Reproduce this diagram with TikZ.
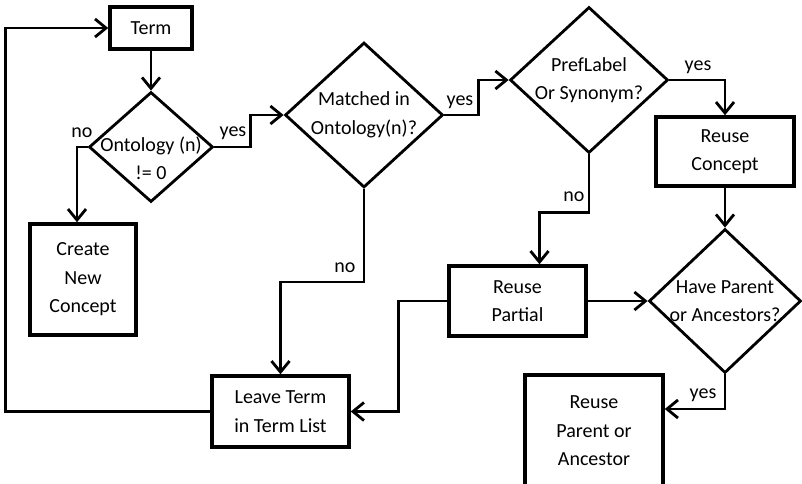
\documentclass[tikz,border=0pt]{standalone}
\usepackage{fontspec}
\setmainfont{Carlito}
\usetikzlibrary{arrows.meta}
\usetikzlibrary{shapes.geometric}
\usetikzlibrary{calc}

\begin{document}
\begin{tikzpicture}[x=1pt,y=-1pt,
	every node/.style={font=\fontsize{20}{28.5}\selectfont, align=center},
	stepbox/.style={draw, rectangle, line width=3.5pt, inner sep=0pt},
	decision/.style={draw, diamond, line width=2.8pt, inner sep=0pt},
	flow/.style={line width=2.8pt, -{Straight Barb[length=11pt,width=18pt]}},
	tag/.style={inner sep=0pt}]
	\useasboundingbox (0,0) rectangle (802,483);
	\clip (0,0) rectangle (802,483);
	
	% boxes
	\node[stepbox, minimum width=82pt, minimum height=42pt] (term) at (151,28) {Term};
	\node[stepbox, minimum width=106pt, minimum height=111pt] (create) at (83,279.5) {Create\\New\\Concept};
	\node[stepbox, minimum width=138pt, minimum height=69pt] (reuse) at (725,151.5) {Reuse\\Concept};
	\node[stepbox, minimum width=137pt, minimum height=70pt] (partial) at (517.5,301) {Reuse\\Partial};
	\node[stepbox, minimum width=137pt, minimum height=71pt] (leave) at (280.5,411.5) {Leave Term\\in Term List};
	\node[stepbox, minimum width=138pt, minimum height=112pt] (parent) at (594,431) {Reuse\\Parent or\\Ancestor};
	
	% decisions
	\node[decision, minimum width=124pt, minimum height=110pt,
		label={[yshift=-11pt]center:{Ontology (n)\\!= 0}}] (ont) at (151,147) {};
	\node[decision, minimum width=158pt, minimum height=145pt,
		label={center:{Matched in\\Ontology(n)?}}] (match) at (364,115) {};
	\node[decision, minimum width=158pt, minimum height=146pt,
		label={center:{PrefLabel\\Or Synonym?}}] (pref) at (589,80) {};
	\node[decision, minimum width=152pt, minimum height=144pt,
		label={center:{Have Parent\\or Ancestors?}}] (have) at (725,301) {};
	
	% connectors
	\draw[flow] (term.south) -- (ont.north);
	\draw[flow] (ont.east) -- ++(36,0) |- (match.west);
	\draw[flow] (ont.west) -| ([xshift=-6pt]create.north);
	\draw[flow] (match.east) -- ++(34,0) |- (pref.west);
	\draw[flow] (match.south) -- ++(0,93) -| (leave.north);
	\draw[flow] (pref.east) -| (reuse.north);
	\draw[flow] (pref.south) -- ++(0,58) -| ([xshift=22pt]partial.north);
	\draw[flow] (reuse.south) -- (have.north);
	\draw[flow] (partial.east) -- (have.west);
	\draw[flow] (partial.west) -- ++(-49,0) |- (leave.east);
	\draw[flow] (have.south) |- ([yshift=22pt]parent.east);
	\draw[flow] (leave.west) -- ++(-205,0) |- (term.west);
	
	% yes / no
	\node[tag] (noOnt) at (82,132.5) {no};
	\node[tag] (yesOnt) at (233,133) {yes};
	\node[tag] (yesMatch) at (460,102) {yes};
	\node[tag] (noMatch) at (345,268) {no};
	\node[tag] (yesPref) at (698,67) {yes};
	\node[tag] (noPref) at (574,197) {no};
	\node[tag] (yesHave) at (703,395) {yes};
\end{tikzpicture}
\end{document}
